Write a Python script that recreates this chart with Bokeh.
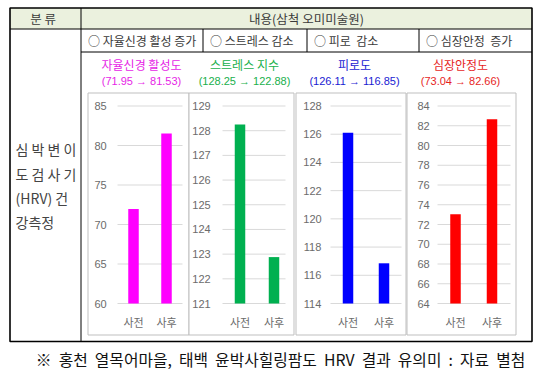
from bokeh.plotting import figure
from bokeh.models import Range1d
from bokeh.core.properties import value
from bokeh.embed import file_html
from bokeh.resources import INLINE

# ---------------- data ----------------
categories = ["사전", "사후"]
titles = ["자율신경 활성도", "스트레스 지수", "피로도", "심장안정도"]
before = [71.95, 128.25, 126.11, 73.04]
after = [81.53, 122.88, 116.85, 82.66]
ticks_1 = [60, 65, 70, 75, 80, 85]
ticks_2 = [121, 122, 123, 124, 125, 126, 127, 128, 129]
ticks_3 = [114, 116, 118, 120, 122, 124, 126, 128]
ticks_4 = [64, 66, 68, 70, 72, 74, 76, 78, 80, 82, 84]
header_cells = ["분  류", "내용(삼척 오미미술원)"]
goal_cells = ["○ 자율신경 활성 증가", "○ 스트레스 감소", "○ 피로\u00a0\u00a0감소", "○ 심장안정\u00a0\u00a0증가"]
side_lines = ["심 박 변 이", "도 검 사 기", "(HRV) 건", "강측정"]
footnote_words = ["※", "홍천", "열목어마을,", "태백", "윤박사힐링팜도", "HRV", "결과", "유의미", ":", "자료", "별첨"]

# ---------------- styles / layout ----------------
KR = value("Noto Sans CJK KR")
bar_colors = ["#ff00ff", "#00b050", "#0000ff", "#ff0000"]
title_colors = ["#e61ee6", "#20b04c", "#1a1ad2", "#e61e1e"]
all_ticks = [ticks_1, ticks_2, ticks_3, ticks_4]

W, H = 538, 376
X0, Y0 = 0, 0
p = figure(width=W, height=H, output_backend="svg", toolbar_location=None,
           x_axis_type=None, y_axis_type=None,
           x_range=Range1d(X0, X0 + W), y_range=Range1d(Y0 + H, Y0),
           min_border=0, min_border_left=0, min_border_right=0,
           min_border_top=0, min_border_bottom=0)
p.outline_line_color = None
p.grid.visible = False
p.background_fill_color = "white"
p.border_fill_color = "white"

# table geometry
TL, TR, TT, TB = 9.5, 531.5, 7.5, 341
COL1 = 80.5
ROW1 = 28.5
ROW2 = 51.5
goal_divs = [202.5, 306.5, 418.5]

# header fill
p.quad(left=[TL], right=[TR], top=[TT], bottom=[ROW1], fill_color="#ebf1de", line_color=None)

# table lines
segs = [
    (TL, ROW1, TR, ROW1),
    (COL1, ROW2, TR, ROW2),
    (COL1, TT, COL1, TB),
]
for d in goal_divs:
    segs.append((d, ROW1, d, ROW2))
p.segment(x0=[s[0] for s in segs], y0=[s[1] for s in segs], x1=[s[2] for s in segs],
          y1=[s[3] for s in segs], line_color="black", line_width=1)
p.quad(left=[TL], right=[TR], top=[TT], bottom=[TB], fill_color=None,
       line_color="black", line_width=1.6)

# header texts
p.text(x=[44, 306], y=[18, 18], text=header_cells, text_font=KR, text_font_size="12.5px",
       text_color="#3a3a3a", text_align="center", text_baseline="middle")
goal_x = [COL1 + 7, goal_divs[0] + 7, goal_divs[1] + 7, goal_divs[2] + 7]
p.text(x=goal_x, y=[40] * 4, text=goal_cells, text_font=KR, text_font_size="12px",
       text_color="#3a3a3a", text_align="left", text_baseline="middle")

# side label
p.text(x=[15] * 4, y=[148, 173, 197, 221], text=side_lines, text_font=KR,
       text_font_size="14px", text_color="#444444", text_align="left", text_baseline="middle")

# footnote (wide word spacing as in the reference)
footnote = "\u00a0\u00a0".join(footnote_words)
p.text(x=[280], y=[359], text=[footnote], text_font=KR, text_font_size="15.8px",
       text_color="#111111", text_align="center", text_baseline="middle")

# ---------------- bar panels ----------------
frames = [(87.5, 188.5), (188.5, 293.5), (295.5, 405.5), (406.5, 515.5)]
FT, FB = 92.5, 334.5
tick_label_x = [100, 201, 312, 423]
grid_x = [(117, 182), (222, 285), (330, 401), (437, 510)]
bar_x = [(133, 166), (239.5, 273.5), (347.5, 383.5), (455, 491.5)]
title_x = [141, 244, 354, 460]
TOP_PX, BOT_PX = 105.5, 303
BAR_W = 10.5

for i in range(4):
    ticks = all_ticks[i]
    tmin, tmax = ticks[0], ticks[-1]
    scale = (BOT_PX - TOP_PX) / (tmax - tmin)
    rname = f"r{i}"
    p.extra_y_ranges[rname] = Range1d(start=tmin - (Y0 + H - BOT_PX) / scale,
                                      end=tmax + (TOP_PX - Y0) / scale)
    fx0, fx1 = frames[i]
    # panel frame
    p.quad(left=[fx0], right=[fx1], top=[FT], bottom=[FB], fill_color="white",
           line_color="#bfbfbf", line_width=1)
    # gridlines at ticks
    gx0, gx1 = grid_x[i]
    p.segment(x0=[gx0] * len(ticks), x1=[gx1] * len(ticks), y0=ticks, y1=ticks,
              line_color="#d9d9d9", line_width=1, y_range_name=rname)
    # tick labels
    p.text(x=[tick_label_x[i]] * len(ticks), y=ticks, text=[str(t) for t in ticks],
           text_font=value("Liberation Sans"), text_font_size="11px", text_color="#6b6b6b",
           text_align="center", text_baseline="middle", y_range_name=rname)
    # bars
    vals = [before[i], after[i]]
    p.vbar(x=list(bar_x[i]), top=vals, bottom=[tmin, tmin], width=BAR_W,
           fill_color=bar_colors[i], line_color=None, y_range_name=rname)
    # category labels
    p.text(x=list(bar_x[i]), y=[321, 321], text=categories, text_font=KR,
           text_font_size="11px", text_color="#6b6b6b", text_align="center",
           text_baseline="middle")
    # titles
    p.text(x=[title_x[i]], y=[64], text=[titles[i]], text_font=KR, text_font_size="12px",
           text_color=title_colors[i], text_align="center", text_baseline="middle")
    p.text(x=[title_x[i]], y=[80], text=[f"({before[i]:.2f} → {after[i]:.2f})"],
           text_font=value("Liberation Sans"), text_font_size="11px",
           text_color=title_colors[i], text_align="center", text_baseline="middle")

open("out.html", "w").write(file_html(p, INLINE))
